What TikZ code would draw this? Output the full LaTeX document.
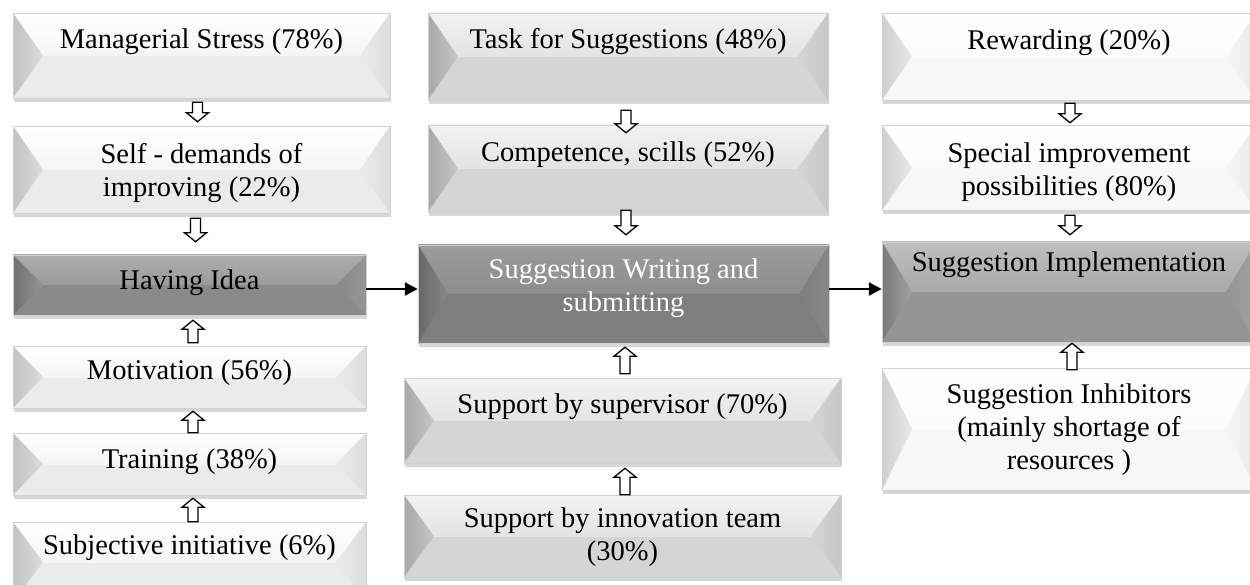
\documentclass[tikz,border=0pt]{standalone}
\usepackage{fontspec}
\setmainfont{Liberation Serif}
\usetikzlibrary{shadows,calc,arrows.meta}
\definecolor{LAb}{HTML}{EBEBEB}\definecolor{LAt}{HTML}{FFFFFF}\definecolor{LAl}{HTML}{C2C2C2}\definecolor{LAr}{HTML}{DCDCDC}
\definecolor{LBb}{HTML}{D5D5D5}\definecolor{LBt}{HTML}{F2F2F2}\definecolor{LBl}{HTML}{A8A8A8}\definecolor{LBr}{HTML}{C6C6C6}
\definecolor{LCb}{HTML}{F7F7F7}\definecolor{LCt}{HTML}{FFFFFF}\definecolor{LCl}{HTML}{CFCFCF}\definecolor{LCr}{HTML}{E8E8E8}
\definecolor{DAb}{HTML}{8A8A8A}\definecolor{DAt}{HTML}{ADADAD}\definecolor{DAl}{HTML}{6E6E6E}\definecolor{DAr}{HTML}{959595}
\definecolor{DBb}{HTML}{7E7E7E}\definecolor{DBt}{HTML}{9C9C9C}\definecolor{DBl}{HTML}{686868}\definecolor{DBr}{HTML}{888888}
\definecolor{DCb}{HTML}{959595}\definecolor{DCt}{HTML}{BEBEBE}\definecolor{DCl}{HTML}{7A7A7A}\definecolor{DCr}{HTML}{A0A0A0}
\tikzset{
  bev/.style n args={4}{rectangle, inner sep=0pt, fill=#1, draw=black!18, line width=.5pt,
    drop shadow={shadow xshift=1pt, shadow yshift=-4pt, opacity=.35, fill=black!45},
    path picture={
      \shade[top color=#2, bottom color=#1] (path picture bounding box.north west) rectangle (path picture bounding box.east);
      \shade[left color=#3, right color=#4] (path picture bounding box.north west) -- ([xshift=30pt]path picture bounding box.west) -- (path picture bounding box.south west) -- cycle;
      \shade[left color=#1, right color=#4] (path picture bounding box.north east) -- ([xshift=-30pt]path picture bounding box.east) -- (path picture bounding box.south east) -- cycle;
    }},
  lightA/.style={bev={LAb}{LAt}{LAl}{LAr}},
  lightB/.style={bev={LBb}{LBt}{LBl}{LBr}},
  lightC/.style={bev={LCb}{LCt}{LCl}{LCr}},
  darkA/.style={bev={DAb}{DAt}{DAl}{DAr}},
  darkB/.style={bev={DBb}{DBt}{DBl}{DBr}},
  darkC/.style={bev={DCb}{DCt}{DCl}{DCr}},
  lab/.style={font=\fontsize{28.5}{33}\selectfont, align=center, inner sep=0pt},
  hol/.style={draw=black, fill=white, line width=1.3pt, line join=miter},
  conn/.style={line width=2.6pt, -{Triangle[length=13pt,width=13pt]}}
}
\newcommand\holarrow[2]{%
  \draw[hol] let \p1=#1, \p2=#2, \n1={9*sign(\y2-\y1)} in
  ({\x1-5pt},\y1) -- ({\x1-5pt},{\y2-(\n1)*1pt}) -- ({\x1-11pt},{\y2-(\n1)*1pt}) -- (\x1,\y2)
  -- ({\x1+11pt},{\y2-(\n1)*1pt}) -- ({\x1+5pt},{\y2-(\n1)*1pt}) -- ({\x1+5pt},\y1) -- cycle;}
\begin{document}
\begin{tikzpicture}[x=1pt,y=-1pt]
\useasboundingbox (0,0) rectangle (1250,585);
\clip (0,0) rectangle (1250,585);
% left column
\node[lightA, minimum width=377pt, minimum height=85pt] (ms) at (201.5,55.5) {};
\node[lightA, minimum width=377pt, minimum height=87pt] (sd) at (201.5,169.5) {};
\node[darkA, minimum width=353pt, minimum height=60pt] (hi) at (189.5,285) {};
\node[lightA, minimum width=353pt, minimum height=62pt] (mo) at (189.5,377) {};
\node[lightA, minimum width=353pt, minimum height=62pt] (tr) at (189.5,464) {};
\node[lightA, minimum width=353pt, minimum height=80pt] (si) at (189.5,562) {};
% middle column
\node[lightB, minimum width=400pt, minimum height=87pt] (ts) at (628,56.5) {};
\node[lightB, minimum width=400pt, minimum height=87pt] (cs) at (628,168.5) {};
\node[darkB, minimum width=411pt, minimum height=98pt] (sw) at (623.5,294) {};
\node[lightB, minimum width=437pt, minimum height=85pt] (sv) at (622.5,420.5) {};
\node[lightB, minimum width=437pt, minimum height=82pt] (it) at (622.5,536) {};
% right column
\node[lightC, minimum width=374pt, minimum height=87pt] (rw) at (1069,56.5) {};
\node[lightC, minimum width=374pt, minimum height=85pt] (sp) at (1069,167.5) {};
\node[darkC, minimum width=374pt, minimum height=100pt] (im) at (1069,292) {};
\node[lightC, minimum width=374pt, minimum height=122pt] (ih) at (1069,429) {};
% texts
\node[lab] (ms-t) at (ms.center |- 0,42) {Managerial Stress (78\%)};
\node[lab] (sd-t) at (sd.center |- 0,173) {Self - demands of\\improving (22\%)};
\node[lab] (hi-t) at (hi.center |- 0,283) {Having Idea};
\node[lab] (mo-t) at (mo.center |- 0,373) {Motivation (56\%)};
\node[lab] (tr-t) at (tr.center |- 0,462) {Training (38\%)};
\node[lab] (si-t) at (si.center |- 0,548) {Subjective initiative (6\%)};
\node[lab] (ts-t) at (ts.center |- 0,42) {Task for Suggestions (48\%)};
\node[lab] (cs-t) at (cs.center |- 0,155) {Competence, scills (52\%)};
\node[lab, text=white] (sw-t) at (sw.center |- 0,288) {Suggestion Writing and\\submitting};
\node[lab] (sv-t) at (sv.center |- 0,407) {Support by supervisor (70\%)};
\node[lab] (it-t) at (it.center |- 0,537) {Support by innovation team\\(30\%)};
\node[lab] (rw-t) at (rw.center |- 0,43) {Rewarding (20\%)};
\node[lab] (sp-t) at (sp.center |- 0,172) {Special improvement\\possibilities (80\%)};
\node[lab] (im-t) at (im.center |- 0,265) {Suggestion Implementation};
\node[lab] (ih-t) at (ih.center |- 0,430) {Suggestion Inhibitors\\(mainly shortage of\\resources )};
% hollow arrows
\holarrow{([xshift=-4pt,yshift=-4pt]ms.south)}{([yshift=4pt]sd.north)}
\holarrow{([xshift=-6pt,yshift=-5pt]sd.south)}{([yshift=13pt]hi.north)}
\holarrow{([xshift=3.5pt,yshift=3pt]mo.north)}{([yshift=-5pt]hi.south)}
\holarrow{([xshift=3.5pt]tr.north)}{([yshift=-3pt]mo.south)}
\holarrow{([xshift=3.5pt]si.north)}{([yshift=-3pt]tr.south)}
\holarrow{([xshift=-2pt,yshift=-10pt]ts.south)}{([yshift=-8pt]cs.north)}
\holarrow{([xshift=-2pt,yshift=2pt]cs.south)}{([yshift=10pt]sw.north)}
\holarrow{([xshift=2.5pt,yshift=4pt]sv.north)}{([yshift=-4pt]sw.south)}
\holarrow{([xshift=2.5pt]it.north)}{([yshift=-5pt]sv.south)}
\holarrow{([xshift=1pt,yshift=-3pt]rw.south)}{([yshift=2pt]sp.north)}
\holarrow{([xshift=1pt,yshift=-5pt]sp.south)}{([yshift=7pt]im.north)}
\holarrow{([xshift=3pt,yshift=-2pt]ih.north)}{([yshift=-1pt]im.south)}
% solid connectors
\coordinate (hy) at ([yshift=-4pt]hi.east);
\draw[conn] (hy) -- (hy -| sw.west);
\draw[conn] (sw.east |- hy) -- (hy -| im.west);
\end{tikzpicture}
\end{document}
